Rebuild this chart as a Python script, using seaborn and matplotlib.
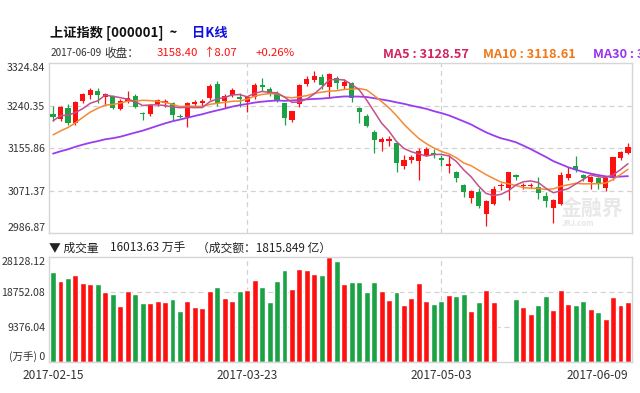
import matplotlib
matplotlib.use("Agg")
import matplotlib.pyplot as plt
import numpy as np
import pandas as pd
import seaborn as sns

# daily data, 2017-02-15 .. 2017-06-09 (78 trading days)
dates = ["2017-02-15", "2017-02-16", "2017-02-17", "2017-02-20", "2017-02-21", "2017-02-22", "2017-02-23", "2017-02-24",
         "2017-02-27", "2017-02-28", "2017-03-01", "2017-03-02", "2017-03-03", "2017-03-06", "2017-03-07", "2017-03-08",
         "2017-03-09", "2017-03-10", "2017-03-13", "2017-03-14", "2017-03-15", "2017-03-16", "2017-03-17", "2017-03-20",
         "2017-03-21", "2017-03-22", "2017-03-23", "2017-03-24", "2017-03-27", "2017-03-28", "2017-03-29", "2017-03-30",
         "2017-03-31", "2017-04-05", "2017-04-06", "2017-04-07", "2017-04-10", "2017-04-11", "2017-04-12", "2017-04-13",
         "2017-04-14", "2017-04-17", "2017-04-18", "2017-04-19", "2017-04-20", "2017-04-21", "2017-04-24", "2017-04-25",
         "2017-04-26", "2017-04-27", "2017-04-28", "2017-05-02", "2017-05-03", "2017-05-04", "2017-05-05", "2017-05-08",
         "2017-05-09", "2017-05-10", "2017-05-11", "2017-05-12", "2017-05-15", "2017-05-16", "2017-05-17", "2017-05-18",
         "2017-05-19", "2017-05-22", "2017-05-23", "2017-05-24", "2017-05-25", "2017-05-26", "2017-05-31", "2017-06-01",
         "2017-06-02", "2017-06-05", "2017-06-06", "2017-06-07", "2017-06-08", "2017-06-09"]

open_p = [3217, 3209, 3228, 3201, 3242, 3252, 3259, 3249, 3250, 3227, 3241, 3250, 3220, 3217, 3235, 3238,
          3237, 3214, 3212, 3235, 3238, 3246, 3272, 3242, 3252, 3248, 3240, 3249, 3270, 3263, 3254, 3237,
          3207, 3235, 3272, 3279, 3285, 3267, 3282, 3268, 3274, 3228, 3215, 3186, 3168, 3170, 3165, 3125,
          3135, 3134, 3145, 3147, 3139, 3125, 3113, 3090, 3067, 3078, 3038, 3056, 3088, 3085, 3108, 3088,
          3089, 3086, 3071, 3049, 3056, 3102.5, 3124.6, 3108.5, 3096.5, 3102.4, 3084.4, 3102.4, 3138.3, 3148.5]
high_p = [3233, 3232, 3236, 3241, 3255, 3264, 3264, 3256, 3252, 3244, 3260, 3254, 3222, 3236, 3245, 3245,
          3240, 3218, 3240, 3243, 3244, 3272, 3278, 3254, 3264, 3255, 3251, 3274, 3282, 3266, 3260, 3238,
          3224, 3271, 3286, 3295, 3290, 3292, 3286, 3280, 3276, 3230, 3218, 3190, 3177, 3178, 3166, 3144,
          3145, 3156, 3158, 3155, 3144, 3144, 3115, 3093, 3082, 3085, 3064, 3089, 3094, 3114, 3110, 3094,
          3094, 3104, 3078, 3066, 3114, 3122, 3142.6, 3110, 3107, 3104, 3104, 3141, 3152, 3166.4]
low_p = [3205, 3205, 3199, 3199, 3238, 3244, 3237, 3234, 3226, 3225, 3237, 3228, 3207, 3214, 3232, 3231,
         3207, 3210, 3195, 3232, 3233, 3243, 3233, 3228, 3249, 3231, 3222, 3245, 3259, 3250, 3239, 3198,
         3204, 3231, 3268, 3276, 3262, 3246, 3262, 3262, 3240, 3201, 3195, 3148, 3151, 3160, 3113, 3120,
         3130, 3100, 3143, 3138, 3124, 3112, 3096, 3069, 3058, 3050, 3016.53, 3054, 3082, 3063, 3100, 3083,
         3085, 3066, 3051.5, 3022.3, 3055, 3100, 3114, 3098, 3082.7, 3084, 3080, 3099, 3135, 3146]
close_p = [3212.99, 3229.62, 3202.08, 3239.96, 3253.33, 3261.22, 3251.38, 3253.43, 3228.66, 3241.73, 3246.93,
           3230.03, 3218.31, 3233.87, 3242.41, 3240.66, 3216.75, 3212.76, 3237.02, 3239.33, 3241.76, 3268.94,
           3237.45, 3250.81, 3261.61, 3245.22, 3248.55, 3269.45, 3266.96, 3252.95, 3241.31, 3210.24, 3222.51,
           3270.05, 3281.00, 3286.62, 3269.39, 3288.97, 3273.83, 3275.96, 3246.07, 3222.17, 3196.71, 3170.69,
           3172.17, 3173.15, 3129.53, 3134.57, 3140.85, 3152.19, 3154.66, 3143.71, 3135.35, 3127.37, 3103.04,
           3078.61, 3080.53, 3052.79, 3061.50, 3083.51, 3090.23, 3112.96, 3104.44, 3090.14, 3090.63, 3075.68,
           3061.95, 3064.08, 3107.83, 3110.06, 3117.18, 3102.62, 3105.54, 3091.66, 3102.10, 3140.32, 3150.33, 3158.40]
# closes of the 29 sessions before 2017-02-15 (needed for the moving averages)
pre_close = [3102.24, 3096.10, 3103.64, 3135.92, 3158.79, 3165.41, 3154.32, 3171.24, 3161.67, 3136.75,
             3119.29, 3112.76, 3103.43, 3108.77, 3113.01, 3101.30, 3123.14, 3136.77, 3142.55, 3149.55,
             3159.17, 3140.17, 3156.98, 3153.09, 3166.98, 3183.18, 3196.70, 3216.84, 3217.93]

# volume, 万手
volume = [24250, 21740, 22630, 23280, 21280, 20850, 20930, 18780, 18320, 15090, 19130, 18160, 15730, 15730,
          16430, 16160, 16810, 13660, 16430, 14740, 14390, 18970, 20040, 17080, 16350, 19050, 19400, 22010,
          20200, 16160, 21660, 24790, 19670, 24970, 24620, 23710, 23360, 28128.12, 27050, 20850, 21470, 21470,
          18860, 21470, 19130, 16540, 18700, 15360, 17080, 21280, 16350, 15460, 16430, 17890, 17700, 18160,
          13580, 16080, 19240, 16080, 60, 60, 16890, 14820, 12930, 15360, 17780, 14010, 19240, 15630,
          15280, 16350, 14280, 13310, 11420, 17350, 15190, 16013.63]

price_labels = ["2986.87", "3071.37", "3155.86", "3240.35", "3324.84"]
vol_labels = ["(万手) 0", "9376.04", "18752.08", "28128.12"]
vol_ticks = [0, 9376.04, 18752.08, 28128.12]
date_ticks = [0, 26, 52, 77]

RED = "#ff1010"
GREEN = "#1ba245"
GRID = "#d2d2d2"

sns.set_theme(style="white")
plt.rcParams["font.family"] = ["Noto Sans CJK SC", "DejaVu Sans"]

df = pd.DataFrame({"i": np.arange(len(dates)), "open": open_p, "high": high_p, "low": low_p,
                   "close": close_p, "volume": volume})
df["dir"] = np.where(df["close"] >= df["open"], "up", "down")
allc = pd.Series(pre_close + close_p)
n0 = len(pre_close)
df["ma5"] = allc.rolling(5).mean().iloc[n0:].values
df["ma10"] = allc.rolling(10).mean().iloc[n0:].values
df["ma30"] = allc.rolling(30).mean().iloc[n0:].values
colors = df["dir"].map({"up": RED, "down": GREEN})

W, H = 640, 393
fig = plt.figure(figsize=(6.4, 3.93), dpi=100)
def fx(x): return x / W
def fy(y): return 1 - y / H

axp = fig.add_axes([fx(49.3), fy(233.3), fx(632.3) - fx(49.3), (233.3 - 63.3) / H])
axv = fig.add_axes([fx(49.3), fy(361.7), fx(632.3) - fx(49.3), (361.7 - 257.3) / H])

# ---- price panel
ylo, yhi = 3003.7, 3308.9
ticks = np.linspace(ylo, yhi, 5)
for t in ticks[1:-1]:
    axp.axhline(t, color=GRID, lw=0.9, ls=(0, (4, 3)), zorder=0)
for d in date_ticks[1:3]:
    axp.axvline(d, color=GRID, lw=0.9, ls=(0, (4, 3)), zorder=0)
    axv.axvline(d, color=GRID, lw=0.9, ls=(0, (4, 3)), zorder=0)

axp.vlines(df["i"], df["low"], df["high"], colors=colors, lw=0.9, zorder=2)
body = (df["close"] - df["open"]).abs().clip(lower=0.9)
axp.bar(df["i"], body, bottom=df[["open", "close"]].min(axis=1), width=0.68, color=colors, lw=0, zorder=3)

sns.lineplot(data=df, x="i", y="ma30", color="#9a3cf0", lw=1.3, ax=axp, zorder=4)
sns.lineplot(data=df, x="i", y="ma10", color="#f58a32", lw=1.1, ax=axp, zorder=5)
sns.lineplot(data=df, x="i", y="ma5", color="#c2508a", lw=1.1, ax=axp, zorder=6)

axp.set_ylim(ylo, yhi)
axp.set_xlim(-0.5, 77.58)
axp.set_yticks(ticks)
axp.set_yticklabels(price_labels)
axp.set_xticks([])
axp.set_xlabel("")
axp.set_ylabel("")
axp.get_yticklabels()[0].set_va("bottom")
axp.get_yticklabels()[-1].set_va("top")

# watermark
axp.text(0.985, 0.15, "金融界", transform=axp.transAxes, ha="right", va="center",
         fontsize=15, fontweight="bold", color="#e8e8e8", zorder=1)
axp.text(0.935, 0.06, "JRJ.com", transform=axp.transAxes, ha="right", va="center",
         fontsize=5.5, style="italic", fontweight="bold", color="#e6e6e6", zorder=1)

# ---- volume panel
for t in vol_ticks[1:3]:
    axv.axhline(t, color=GRID, lw=0.9, ls=(0, (4, 3)), zorder=0)
sns.barplot(data=df, x="i", y="volume", hue="dir", palette={"up": RED, "down": GREEN},
            native_scale=True, dodge=False, width=0.8, saturation=1, errorbar=None,
            legend=False, ax=axv, zorder=2)
axv.set_ylim(0, 28128.12)
axv.set_xlim(-0.5, 77.58)
axv.set_yticks(vol_ticks)
axv.set_yticklabels(vol_labels)
axv.get_yticklabels()[0].set_va("bottom")
axv.get_yticklabels()[-1].set_va("top")
axv.set_xticks(date_ticks)
axv.set_xticklabels([dates[k] for k in date_ticks])
axv.get_xticklabels()[-1].set_ha("right")
axv.set_xlabel("")
axv.set_ylabel("")

for ax in (axp, axv):
    for s in ax.spines.values():
        s.set_color("#d6d6d6")
        s.set_linewidth(1)
    ax.tick_params(axis="both", length=0, pad=3, labelsize=7.6, labelcolor="#333333")
axv.tick_params(axis="x", pad=5, labelsize=8.6)

# ---- header texts
fig.text(fx(50), fy(33), "上证指数 [000001]  ~", fontsize=9.5, fontweight="bold", color="#111111", va="center")
fig.text(fx(192), fy(33), "日K线", fontsize=9.5, fontweight="bold", color="#1010e0", va="center")
fig.text(fx(51), fy(53), "2017-06-09", fontsize=7.2, color="#333333", va="center")
fig.text(fx(104), fy(53), "收盘：", fontsize=8.4, color="#333333", va="center")
fig.text(fx(157), fy(53), "3158.40", fontsize=8.2, color=RED, va="center")
fig.text(fx(203), fy(53), "↑8.07", fontsize=8.2, color=RED, va="center")
fig.text(fx(256), fy(53), "+0.26%", fontsize=8.2, color=RED, va="center")

fig.text(fx(383), fy(54), "MA5 : 3128.57", fontsize=9.2, fontweight="bold", color="#d2245c", va="center")
fig.text(fx(483), fy(54), "MA10 : 3118.61", fontsize=9.2, fontweight="bold", color="#f07818", va="center")
fig.text(fx(593), fy(54), "MA30 : %.2f" % df["ma30"].iloc[-1], fontsize=9.2, fontweight="bold",
         color="#9933ee", va="center")

fig.text(fx(49), fy(248), "▼ 成交量", fontsize=8.5, color="#222222", va="center")
fig.text(fx(110), fy(248), "16013.63 万手", fontsize=8.5, color="#222222", va="center")
fig.text(fx(197), fy(248), "（成交额：1815.849 亿）", fontsize=8.5, color="#222222", va="center")

fig.savefig("out.png", dpi=100)
